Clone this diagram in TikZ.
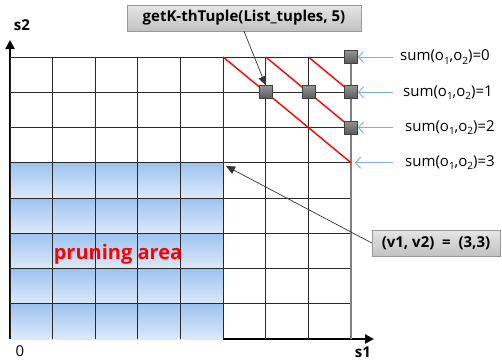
\documentclass[tikz,border=0pt]{standalone}
\usepackage{fontspec}
\setmainfont{Open Sans}
\usetikzlibrary{arrows.meta,calc}
\definecolor{blueD}{HTML}{9DC3F0}
\definecolor{blueL}{HTML}{DDE9FA}
\definecolor{arrowblue}{HTML}{7AAEE0}
\definecolor{gridc}{HTML}{2A2A2A}
\newcommand{\subs}[1]{\raisebox{-0.4ex}{\fontsize{10}{10}\selectfont #1}}
\begin{document}
\begin{tikzpicture}[x=1pt,y=-1pt,
  gridline/.style={draw=gridc, line width=1pt},
  cell/.style={top color=blueD, bottom color=blueL, draw=none},
  redline/.style={draw=red, line width=1.4pt},
  sq/.style={draw=black!75, top color=black!42, bottom color=black!65, minimum size=13pt, inner sep=0pt, line width=0.8pt},
  callout/.style={draw=black!40, top color=black!10, bottom color=black!24, font=\bfseries\fontsize{15}{15}\selectfont, inner xsep=6pt, inner ysep=0pt, minimum height=26pt},
  sumlbl/.style={font=\fontsize{15}{15}\selectfont, anchor=west, inner sep=0pt},
  bluearrow/.style={draw=arrowblue, line width=0.9pt, -{Straight Barb[length=5pt,width=11pt]}},
  blackarrow/.style={draw=black!80, line width=0.7pt, -{Triangle[length=9pt,width=8pt]}},
  axisline/.style={line width=2.5pt, -{Triangle[length=9pt,width=9pt]}}
]
\useasboundingbox (0,0) rectangle (502,362);
% axes
\draw[axisline] (10,339) -- (10,40);
\draw[axisline] (10,339) -- (374,339);
% pruning area cells
\foreach \i in {0,...,4}
  \fill[cell] (10,{162.75+35.25*\i}) rectangle (223.1,{198+35.25*\i});
% grid
\foreach \x in {10,52.6,95.25,137.9,180.5,223.1,265.75,308.4}
  \draw[gridline] (\x,57) -- (\x,339);
\foreach \y in {57,92.25,127.5,162.75,198,233.25,268.5,303.75}
  \draw[gridline] (10,\y) -- (351,\y);
\draw[draw=black!50, line width=1.5pt] (351,57) -- (351,339);
% red diagonals
\draw[redline] (223.1,57) -- (351,162.75);
\draw[redline] (265.75,57) -- (351,127.5);
\draw[redline] (308.4,57) -- (351,92.25);
% squares
\node[sq] (s0) at (351,57) {};
\node[sq] (s1) at (351,92.25) {};
\node[sq] (s2) at (351,127.5) {};
\node[sq] (sA) at (265.75,92.25) {};
\node[sq] (sB) at (308.4,92.25) {};
\coordinate (s3) at (355,162.75);
% axis labels
\node[font=\bfseries\fontsize{15}{15}\selectfont] (s2lbl) at (22,25) {s2};
\node[font=\bfseries\fontsize{15}{15}\selectfont] (s1lbl) at (363,352) {s1};
\node[font=\fontsize{15}{15}\selectfont] (zero) at (20,351) {0};
% pruning label
\node[text=red, font=\bfseries\fontsize{20}{20}\selectfont] (pa) at (118,254) {pruning area};
% callouts
\node[callout, minimum width=234pt] (gk) at (244,18) {getK-thTuple(List\_tuples, 5)};
\node[callout, minimum width=128pt] (vv) at (436,243) {(v1, v2)\ \ =\ \ (3,3)};
\coordinate (corner) at (226,166);
\draw[blackarrow] (gk.south) -- (sA.north);
\draw[blackarrow] (vv.west) -- (corner);
% sum labels
\node[sumlbl] (l0) at (400,57) {sum(o\subs{1},o\subs{2})=0};
\node[sumlbl] (l1) at (403,92.25) {sum(o\subs{1},o\subs{2})=1};
\node[sumlbl] (l2) at (405,127.5) {sum(o\subs{1},o\subs{2})=2};
\node[sumlbl] (l3) at (405,162.75) {sum(o\subs{1},o\subs{2})=3};
\coordinate (b0) at (393,57);
\coordinate (b1) at (393,92.25);
\coordinate (b2) at (393,127.5);
\coordinate (b3) at (393,162.75);
\draw[bluearrow] (b0) -- (s0.east);
\draw[bluearrow] (b1) -- (s1.east);
\draw[bluearrow] (b2) -- (s2.east);
\draw[bluearrow] (b3) -- (s3);
\end{tikzpicture}
\end{document}
